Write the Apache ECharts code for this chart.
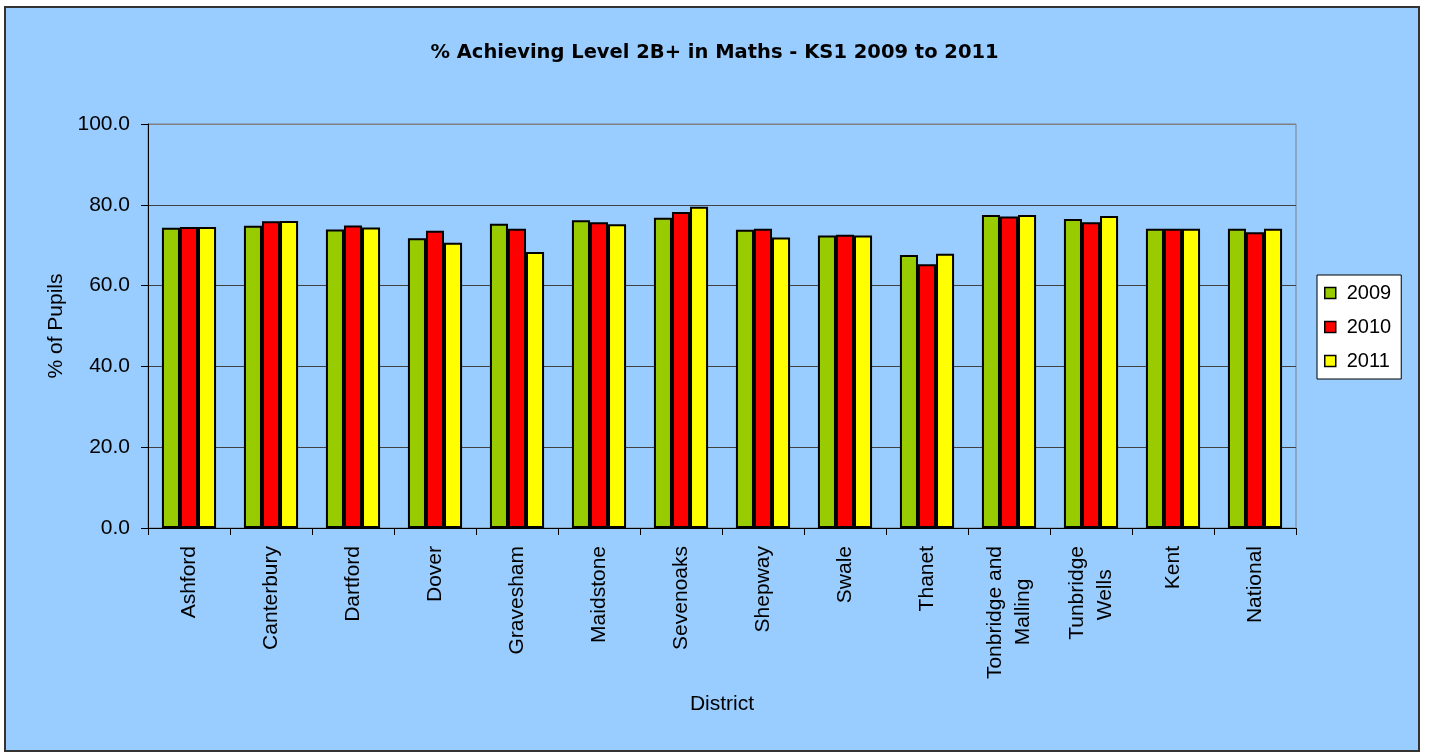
<!DOCTYPE html>
<html><head><meta charset="utf-8">
<script src="https://cdn.jsdelivr.net/npm/echarts@6/dist/echarts.min.js"></script>
<style>html,body{margin:0;padding:0;background:#fff}#c{width:1429px;height:752px}</style>
</head><body><div id="c"></div>
<script>
const categories = ['Ashford','Canterbury','Dartford','Dover','Gravesham','Maidstone','Sevenoaks','Shepway','Swale','Thanet','Tonbridge and\nMalling','Tunbridge\nWells','Kent','National'];
const v2009 = [74.3,74.8,73.9,71.7,75.3,76.2,76.8,73.8,72.4,67.6,77.5,76.5,74.1,74.1];
const v2010 = [74.5,75.9,74.9,73.6,74.1,75.7,78.2,74.1,72.6,65.3,77.1,75.7,74.1,73.2];
const v2011 = [74.5,76.0,74.4,70.6,68.3,75.2,79.5,71.9,72.4,67.9,77.5,77.2,74.1,74.1];
const seriesNames = ['2009','2010','2011'];
const colors = ['#99CC00','#FF0000','#FFFF00'];
const FONT = 'Liberation Sans';
const FS = 21;
const LH = 28;

// centre each line of a multi-line label: pad shorter lines with an invisible rich token
const ctx = document.createElement('canvas').getContext('2d');
ctx.font = FS + 'px "' + FONT + '"';
const padW = ctx.measureText('i').width || FS * 0.222;
function centreLines(v) {
  const lines = v.split('\n');
  if (lines.length < 2) return v;
  const ws = lines.map(s => ctx.measureText(s).width);
  const wmax = Math.max(...ws);
  return lines.map((s, j) => {
    const n = Math.round((wmax - ws[j]) / 2 / padW);
    return n > 0 ? s + '{p|' + 'i'.repeat(n) + '}' : s;
  }).join('\n');
}

const chart = echarts.init(document.getElementById('c'));
const mk = (name, data, color) => ({
  name, type:'bar', data, barGap:'0%', barCategoryGap:'34%',
  itemStyle:{color, borderColor:'#000', borderWidth:2}
});
chart.setOption({
  animation:false,
  backgroundColor:'#fff',
  textStyle:{fontFamily:FONT},
  graphic:[{type:'rect', z:-100, silent:true, shape:{x:5,y:7,width:1414,height:744},
    style:{fill:'#99CCFF', stroke:'#333', lineWidth:2}}],
  title:{text:'% Achieving Level 2B+ in Maths - KS1 2009 to 2011', left:'center', top:38,
    textStyle:{fontFamily:'DejaVu Sans', fontWeight:'bold', fontSize:19.5, color:'#000'}},
  legend:{orient:'vertical', left:1317, top:275, backgroundColor:'#fff',
    borderColor:'#000', borderWidth:1, padding:[8,10,8,7], itemGap:14, itemWidth:11, itemHeight:11,
    icon:'rect', data:seriesNames,
    itemStyle:{borderColor:'#000', borderWidth:1.5},
    textStyle:{fontFamily:FONT, fontSize:20, color:'#000', padding:[0,0,0,6]}},
  grid:{left:148, top:124, width:1148, height:404, show:true, borderColor:'#808080', borderWidth:1, backgroundColor:'transparent'},
  xAxis:{type:'category', data:categories, name:'District', nameLocation:'middle', nameGap:166,
    nameTextStyle:{fontFamily:FONT, fontSize:FS, color:'#000'},
    axisLine:{lineStyle:{color:'#000', width:1}},
    axisTick:{show:true, length:7, lineStyle:{color:'#000'}},
    axisLabel:{rotate:90, margin:18, fontFamily:FONT, fontSize:FS, color:'#000', lineHeight:LH,
      rich:{p:{color:'rgba(0,0,0,0)', fontFamily:FONT, fontSize:FS, lineHeight:LH}},
      formatter:v => centreLines(v)}},
  yAxis:{type:'value', min:0, max:100, interval:20, name:'% of Pupils', nameLocation:'middle', nameGap:79,
    nameTextStyle:{fontFamily:FONT, fontSize:FS, color:'#000'},
    axisLine:{show:true, lineStyle:{color:'#000', width:1}},
    axisTick:{show:true, length:7, lineStyle:{color:'#000'}},
    axisLabel:{margin:18, fontFamily:FONT, fontSize:FS, color:'#000', formatter:v=>v.toFixed(1)},
    splitLine:{lineStyle:{color:['#000','#404040','#404040','#404040','#404040','#808080'], width:1}}},
  series:[mk(seriesNames[0], v2009, colors[0]), mk(seriesNames[1], v2010, colors[1]), mk(seriesNames[2], v2011, colors[2])]
});
</script></body></html>
